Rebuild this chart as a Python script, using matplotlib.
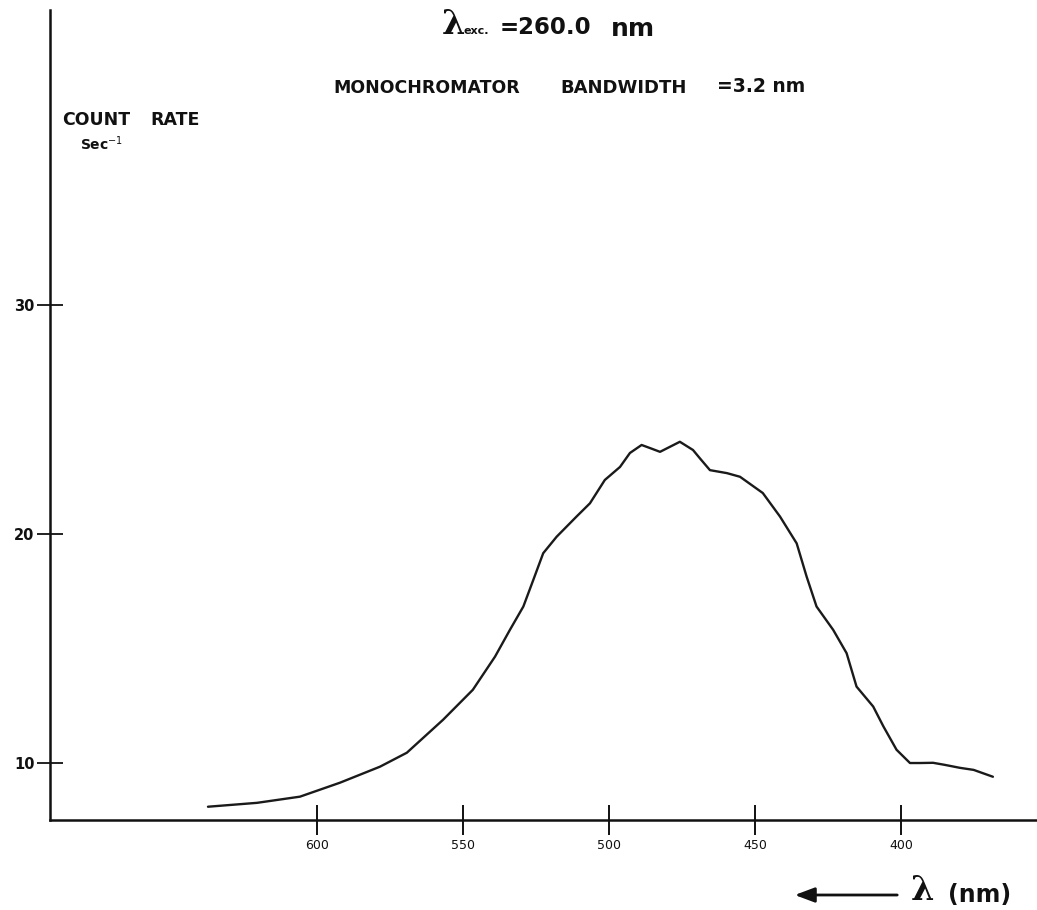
import matplotlib
matplotlib.use("Agg")
import matplotlib.pyplot as plt
from matplotlib.patches import FancyArrowPatch

# Emission spectrum (count rate vs. wavelength), excitation at 260.0 nm
wavelength_nm = [637.3, 620.5, 605.8, 592.1, 578.4, 569.2, 556.8, 546.6, 539.0,
                 533.9, 529.3, 525.9, 522.5, 517.9, 511.1, 506.5, 501.4, 496.2,
                 492.8, 488.8, 485.4, 482.5, 479.1, 475.7, 471.2, 468.8, 465.4,
                 459.6, 455.1, 447.3, 441.4, 435.7, 432.3, 428.9, 423.2, 418.6,
                 415.2, 409.5, 406.0, 401.5, 396.9, 393.5, 389.0, 385.0, 379.8,
                 375.1, 368.5]
count_rate = [8.08, 8.25, 8.52, 9.13, 9.83, 10.44, 11.88, 13.19, 14.64,
              15.81, 16.83, 17.99, 19.16, 19.88, 20.76, 21.34, 22.36, 22.93,
              23.54, 23.89, 23.73, 23.59, 23.81, 24.03, 23.67, 23.30, 22.79,
              22.66, 22.50, 21.79, 20.76, 19.59, 18.14, 16.83, 15.81, 14.79,
              13.33, 12.46, 11.59, 10.57, 9.99, 9.99, 10.00, 9.91, 9.78,
              9.69, 9.39]

x_ticks = [600, 550, 500, 450, 400]
y_ticks = [10, 20, 30]

INK = "#111111"
W, H = 1037, 910
fig = plt.figure(figsize=(W / 100, H / 100), dpi=100)
fig.patch.set_facecolor("white")


def fx(px):
    return px / W


def fy(py):
    return 1 - py / H


ax = fig.add_axes([fx(50), fy(820), fx(1037) - fx(50), fy(10) - fy(820)])
ax.set_facecolor("white")
ax.plot(wavelength_nm, count_rate, color="#1a1a1a", lw=1.7,
        solid_joinstyle="round", solid_capstyle="round")

ax.set_xlim(691.4, 353.4)
ax.set_ylim(7.5, 42.9)

for side in ("top", "right"):
    ax.spines[side].set_visible(False)
for side in ("left", "bottom"):
    ax.spines[side].set_linewidth(1.8)
    ax.spines[side].set_color(INK)

ax.set_xticks(x_ticks)
ax.set_xticklabels([str(v) for v in x_ticks])
ax.set_yticks(y_ticks)
ax.set_yticklabels([str(v) for v in y_ticks])
ax.tick_params(axis="x", direction="inout", length=22, width=1.4, pad=3,
               labelsize=9, colors=INK)
ax.tick_params(axis="y", direction="inout", length=19, width=1.3, pad=1.5,
               labelsize=10.5, colors=INK)
for lab in ax.get_yticklabels():
    lab.set_fontweight("bold")

# Header: excitation wavelength
fig.text(fx(442), fy(24), "λ", fontsize=24, fontweight="bold",
         family="DejaVu Serif", ha="left", va="center", color=INK)
fig.text(fx(464), fy(31), "exc.", fontsize=8, fontweight="bold",
         ha="left", va="center", color=INK)
fig.text(fx(500), fy(27), "=260.0", fontsize=16.5, fontweight="bold",
         ha="left", va="center", color=INK)
fig.text(fx(611), fy(29), "nm", fontsize=18, fontweight="bold",
         ha="left", va="center", color=INK)

# Header: monochromator bandwidth
fig.text(fx(333), fy(88), "MONOCHROMATOR", fontsize=12.5, fontweight="bold",
         ha="left", va="center", color=INK)
fig.text(fx(624), fy(88), "BANDWIDTH", fontsize=13, fontweight="bold",
         ha="center", va="center", color=INK)
fig.text(fx(717), fy(86), "=3.2 nm", fontsize=13.5, fontweight="bold",
         ha="left", va="center", color=INK)

# Y-axis caption
fig.text(fx(62), fy(120), "COUNT", fontsize=12.5, fontweight="bold",
         ha="left", va="center", color=INK)
fig.text(fx(150), fy(120), "RATE", fontsize=12.5, fontweight="bold",
         ha="left", va="center", color=INK)
fig.text(fx(80), fy(144), r"Sec$^{-1}$", fontsize=10, fontweight="bold",
         ha="left", va="center", color=INK)

# X-axis caption with direction arrow
fig.patches.append(FancyArrowPatch(
    (fx(900), fy(895)), (fx(792), fy(895)), transform=fig.transFigure,
    arrowstyle="-|>,head_length=12,head_width=4.5", lw=2.0, color=INK,
    mutation_scale=1))
fig.text(fx(911), fy(891), "λ", fontsize=24, fontweight="bold",
         family="DejaVu Serif", ha="left", va="center", color=INK)
fig.text(fx(948), fy(895), "(nm)", fontsize=17, fontweight="bold",
         ha="left", va="center", color=INK)

fig.savefig("out.png", dpi=100, facecolor="white")
